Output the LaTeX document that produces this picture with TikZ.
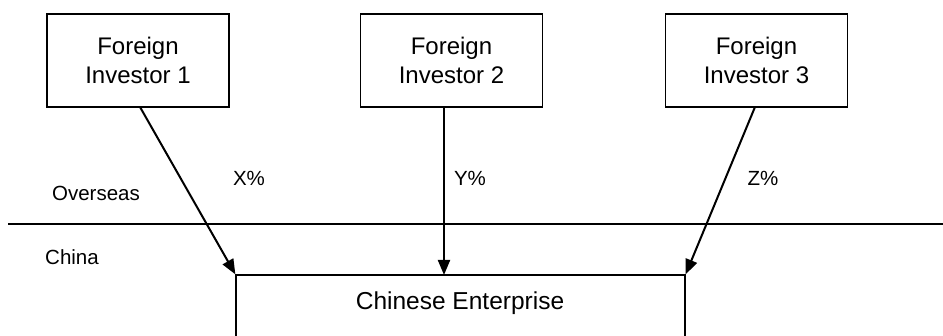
\documentclass[tikz,border=0pt]{standalone}
\usepackage{fontspec}
\setmainfont{Liberation Sans}
\usetikzlibrary{arrows.meta}
\begin{document}
\begin{tikzpicture}[x=1pt,y=-1pt,
  invbox/.style={draw,line width=1.3pt,minimum width=182pt,minimum height=93pt,inner sep=0pt,align=center,font=\fontsize{24}{29.5}\selectfont},
  entbox/.style={draw,line width=1.3pt,minimum width=449pt,minimum height=100pt,inner sep=0pt},
  lbl/.style={font=\fontsize{20.5}{24}\selectfont,inner sep=0pt},
  arr/.style={line width=2pt,-{Triangle[length=15pt,width=12pt]}}]
\useasboundingbox (0,0) rectangle (943,336);
\node[invbox] (b1) at (138,60.5) {Foreign\\Investor 1};
\node[invbox] (b2) at (451.5,60.5) {Foreign\\Investor 2};
\node[invbox] (b3) at (756.5,60.5) {Foreign\\Investor 3};
\node[entbox] (ent) at (460.5,325) {};
\node[font=\fontsize{24.5}{28}\selectfont,inner sep=0pt] (enttxt) at (460,303) {Chinese Enterprise};
\coordinate (hl) at (8,224);
\coordinate (hr) at (943,224);
\draw[line width=1.6pt] (hl) -- (hr);
\node[lbl] (ov) at (96,193) {Overseas};
\node[lbl] (cn) at (72,257) {China};
\node[lbl] (x) at (249,178) {X\%};
\node[lbl] (y) at (470,178) {Y\%};
\node[lbl] (z) at (763,178) {Z\%};
\coordinate (s1) at (140,107);
\coordinate (s2) at (444,107);
\coordinate (s3) at (755,107);
\coordinate (e2) at (444,275);
\draw[arr] (s1) -- (ent.north west);
\draw[arr] (s2) -- (e2);
\draw[arr] (s3) -- (ent.north east);
\end{tikzpicture}
\end{document}
